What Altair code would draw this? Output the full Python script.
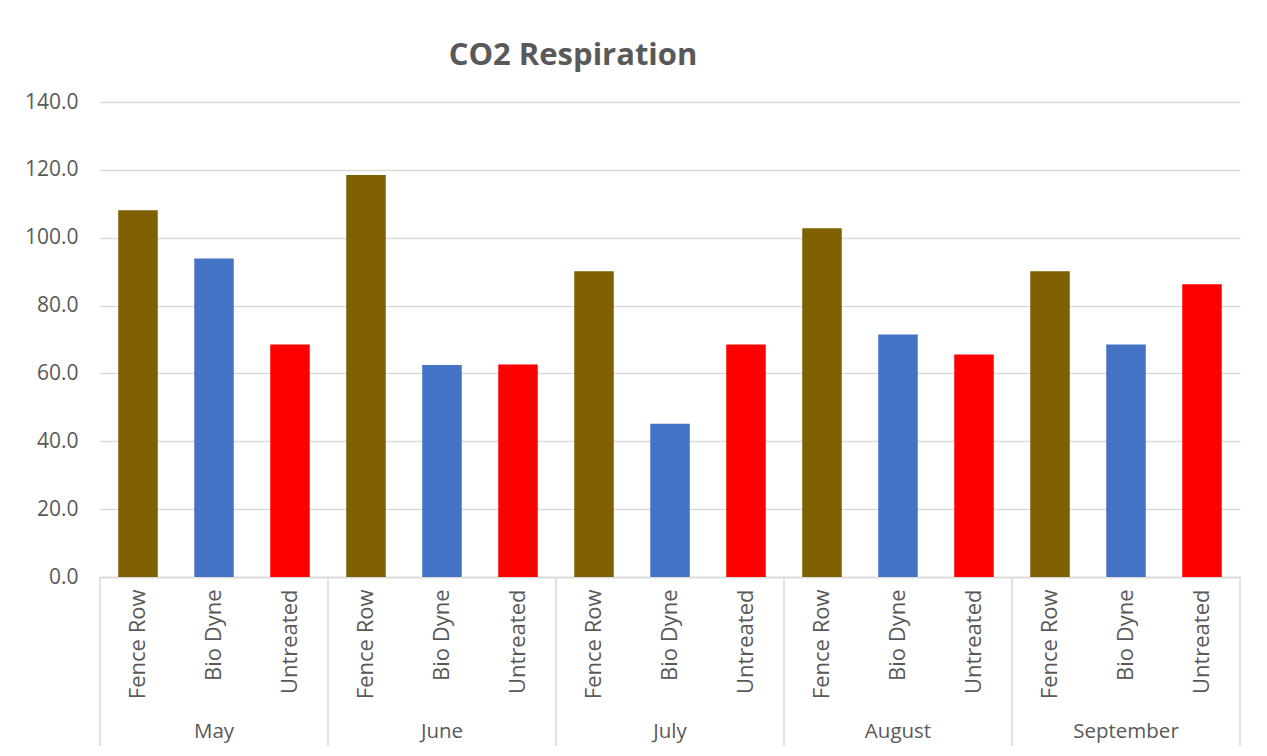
import altair as alt
import pandas as pd

months = ["May", "June", "July", "August", "September"]
treatments = ["Fence Row", "Bio Dyne", "Untreated"]
fence_row = [108.1, 118.5, 90.1, 102.8, 90.1]
bio_dyne = [93.9, 62.5, 45.2, 71.5, 68.5]
untreated = [68.5, 62.6, 68.5, 65.6, 86.3]
colors = ["#7F6000", "#4472C4", "#FF0000"]
y_ticks = [0, 20, 40, 60, 80, 100, 120, 140]

W, H = 1140, 475
TXT = "#595959"
FONT = "Open Sans"

rows = []
for i, m in enumerate(months):
    for t, vals in zip(treatments, [fence_row, bio_dyne, untreated]):
        rows.append({"month": m, "treatment": t, "key": f"{m}|{t}", "value": vals[i]})
df = pd.DataFrame(rows)
order = list(df["key"])

xscale = alt.Scale(domain=order, paddingInner=0, paddingOuter=0)

bars = alt.Chart(df).mark_bar(width=alt.RelativeBandSize(0.52)).encode(
    x=alt.X("key:N", sort=order, scale=xscale, title=None,
            axis=alt.Axis(labelExpr="split(datum.label, '|')[1]", labelAngle=-90,
                          labelFont=FONT, labelFontSize=22, labelColor=TXT,
                          labelPadding=12, ticks=False, domainColor="#D9D9D9",
                          domainWidth=1.5, grid=False, labelLimit=200)),
    y=alt.Y("value:Q", scale=alt.Scale(domain=[0, 140], nice=False), title=None,
            axis=alt.Axis(values=y_ticks, format=".1f", labelFont=FONT, labelFontSize=21,
                          labelColor=TXT, labelPadding=22, ticks=False, domain=False,
                          gridColor="#D9D9D9", gridWidth=1.5)),
    color=alt.Color("treatment:N", scale=alt.Scale(domain=treatments, range=colors), legend=None),
)

mdf = df[df["treatment"] == "Bio Dyne"]
month_text = alt.Chart(mdf).mark_text(font=FONT, fontSize=20.5, color=TXT, baseline="middle").encode(
    x=alt.X("key:N", sort=order, scale=xscale),
    y=alt.value(H + 155),
    text="month:N",
)

sep_df = df[df["treatment"] == "Fence Row"]
seps = alt.Chart(sep_df).mark_rule(color="#D9D9D9", strokeWidth=1.5).encode(
    x=alt.X("key:N", sort=order, scale=xscale, bandPosition=0),
    y=alt.value(H),
    y2=alt.value(H + 169),
)
last_df = df[df["key"] == order[-1]]
sep_end = alt.Chart(last_df).mark_rule(color="#D9D9D9", strokeWidth=1.5).encode(
    x=alt.X("key:N", sort=order, scale=xscale, bandPosition=1),
    y=alt.value(H),
    y2=alt.value(H + 169),
)

title = alt.Chart(pd.DataFrame({"t": ["CO2 Respiration"]})).mark_text(
    font=FONT, fontSize=31, fontWeight="bold", color=TXT, baseline="middle", align="center"
).encode(x=alt.value(473), y=alt.value(-46), text="t:N")

chart = alt.layer(bars, month_text, seps, sep_end, title).properties(
    width=W, height=H,
    background="white",
    autosize=alt.AutoSizeParams(type="none"),
    padding={"left": 92, "top": 94, "right": 19, "bottom": 172},
).configure_view(strokeWidth=0, stroke="transparent")

chart.save("out.html", embed_options={"renderer": "svg", "actions": False})
